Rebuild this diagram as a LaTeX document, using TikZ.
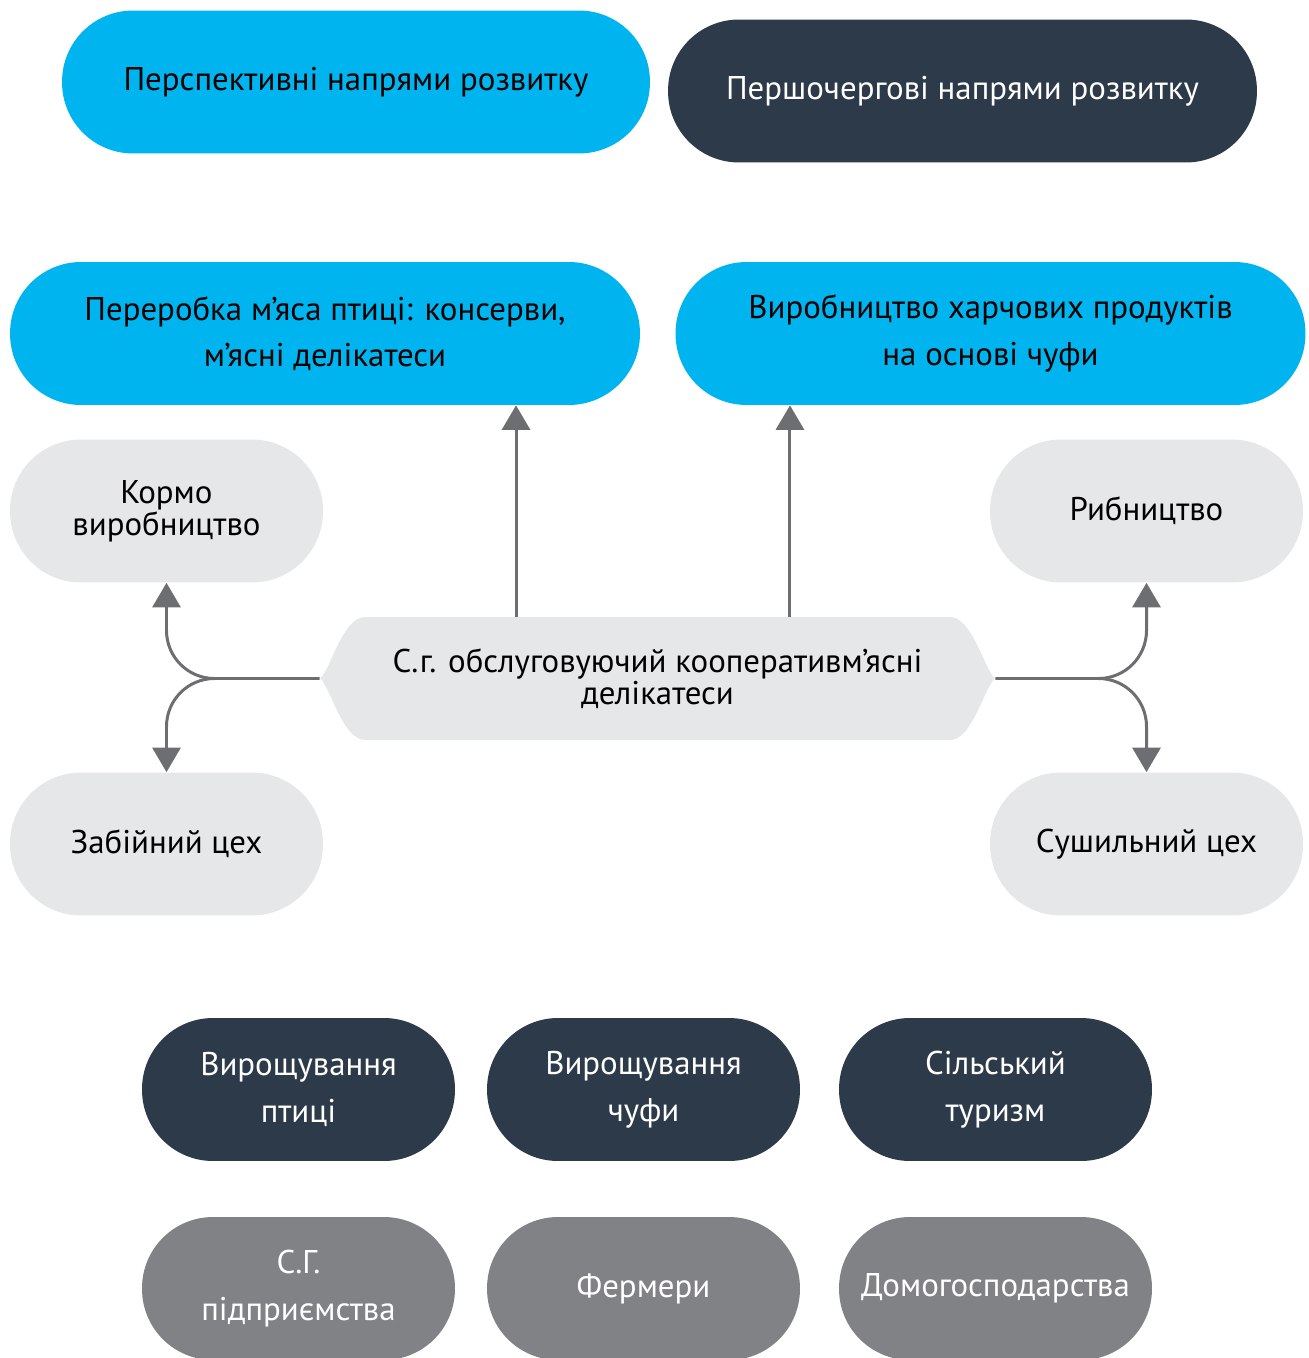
\documentclass[tikz,border=0pt]{standalone}
\usepackage{fontspec}
\setmainfont{PT Sans}
\usetikzlibrary{arrows.meta}
\definecolor{skyblue}{HTML}{00B5EF}
\definecolor{navy}{HTML}{2C3A4A}
\definecolor{lightgrey}{HTML}{E6E7E8}
\definecolor{midgrey}{HTML}{808285}
\definecolor{arrowgrey}{HTML}{6D6E71}
\begin{document}
\begin{tikzpicture}[x=0.02cm, y=-0.02cm,
    pill/.style={shape=rectangle, rounded corners=1.42cm, minimum height=2.86cm, inner sep=0pt, align=center, font=\fontsize{18.7}{26.5}\selectfont},
    goal/.style={pill, fill=skyblue, text=black, minimum width=12.6cm},
    priority/.style={pill, fill=navy, text=white},
    branch/.style={pill, fill=lightgrey, text=black, minimum width=6.26cm, font=\fontsize{18.7}{17}\selectfont},
    activity/.style={pill, fill=navy, text=white, minimum width=6.26cm},
    actor/.style={pill, fill=midgrey, text=white, minimum width=6.26cm},
    hub/.style={shape=rectangle, inner sep=0pt, minimum width=13.5cm, minimum height=2.46cm, align=center, font=\fontsize{18.7}{17}\selectfont,
      path picture={\fill[lightgrey] (path picture bounding box.west) .. controls +(0.2cm,0.15cm) and +(-0.45cm,0) .. ([xshift=0.9cm]path picture bounding box.north west) -- ([xshift=-0.9cm]path picture bounding box.north east) .. controls +(0.45cm,0) and +(-0.2cm,0.15cm) .. (path picture bounding box.east) .. controls +(-0.2cm,-0.15cm) and +(0.45cm,0) .. ([xshift=-0.9cm]path picture bounding box.south east) -- ([xshift=0.9cm]path picture bounding box.south west) .. controls +(-0.45cm,0) and +(0.2cm,-0.15cm) .. cycle;}},
    link/.style={draw=arrowgrey, line width=1.7pt, -{Triangle[width=16pt,length=14pt]}},
  ]
    \useasboundingbox (0,0) rectangle (1308,1358);
    \clip (0,0) rectangle (1308,1358);

    \node[pill, fill=skyblue, minimum width=11.76cm] (persp) at (356,82) {Перспективні напрями розвитку};
    \node[priority, minimum width=11.78cm] (pershoch) at (962.5,91) {Першочергові напрями розвитку};

    \node[goal] (pererob) at (325,333.5) {Переробка м’яса птиці: консерви,\\м’ясні делікатеси};
    \node[goal] (vyrob) at (990.5,333.5) {Виробництво харчових продуктів\\на основі чуфи};

    \node[branch] (kormo) at (166.5,511) {Кормо\\виробництво};
    \node[branch] (ryb) at (1146.5,511) {Рибництво};
    \node[branch] (zab) at (166.5,844) {Забійний цех};
    \node[branch] (sush) at (1146.5,844) {Сушильний цех};

    \node[hub] (coop) at (657.5,678.5) {С.г. обслуговуючий кооперативм’ясні\\делікатеси};

    \coordinate (forkL) at ([xshift=0.96cm]kormo.south |- coop.west);
    \coordinate (forkR) at ([xshift=-0.96cm]ryb.south |- coop.east);

    \draw[link] (coop.west) -- (forkL) .. controls +(-0.53cm,0) and +(0,-0.53cm) .. ([yshift=0.96cm]forkL -| kormo.south) -- (kormo.south);
    \draw[link] (forkL) .. controls +(-0.53cm,0) and +(0,0.53cm) .. ([yshift=-0.96cm]forkL -| zab.north) -- (zab.north);
    \draw[link] (coop.east) -- (forkR) .. controls +(0.53cm,0) and +(0,-0.53cm) .. ([yshift=0.96cm]forkR -| ryb.south) -- (ryb.south);
    \draw[link] (forkR) .. controls +(0.53cm,0) and +(0,0.53cm) .. ([yshift=-0.96cm]forkR -| sush.north) -- (sush.north);

    \draw[link] ([xshift=-2.83cm]coop.north) -- ([xshift=-2.83cm]coop.north |- pererob.south);
    \draw[link] ([xshift=2.65cm]coop.north) -- ([xshift=2.65cm]coop.north |- vyrob.south);

    \node[activity] (ptytsi) at (298.5,1089.5) {Вирощування\\птиці};
    \node[activity] (chufa) at (643.5,1089.5) {Вирощування\\чуфи};
    \node[activity] (turyzm) at (995.5,1089.5) {Сільський\\туризм};

    \node[actor] (sg) at (298.5,1288.5) {С.Г.\\підприємства};
    \node[actor] (fermery) at (643.5,1288.5) {Фермери};
    \node[actor] (domo) at (995.5,1288.5) {Домогосподарства};

  \end{tikzpicture}
\end{document}
